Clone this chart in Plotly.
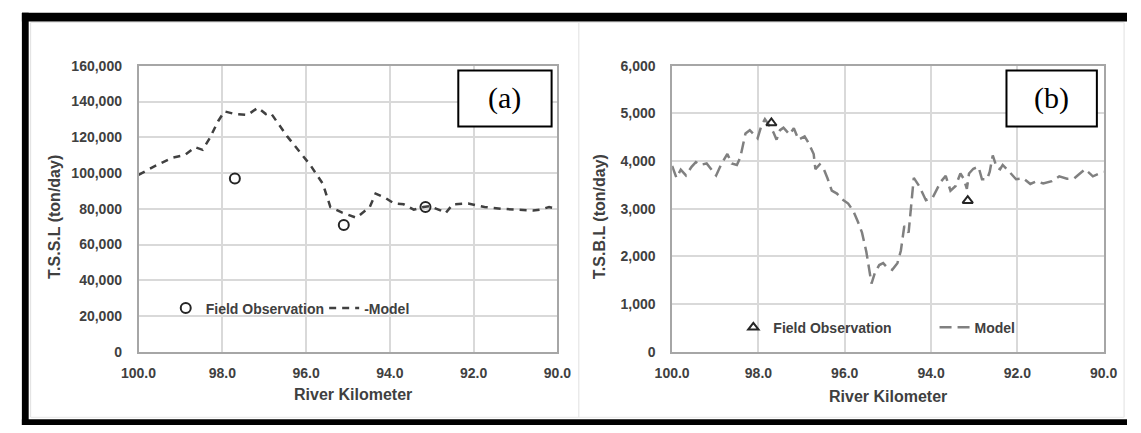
import plotly.graph_objects as go

W, H = 1141, 433

# ---------------- data ----------------
# Panel (a): total suspended sediment load
km_model_a = [100.0, 99.6, 99.2, 98.9, 98.65, 98.47, 98.3, 98.1, 97.95, 97.7, 97.4, 97.15,
              96.96, 96.84, 96.45, 96.15, 95.9, 95.6, 95.42, 95.15, 94.8, 94.48, 94.34,
              94.1, 93.9, 93.67, 93.43, 93.2, 93.06, 92.78, 92.67, 92.5, 92.13, 91.74,
              91.35, 90.97, 90.58, 90.42, 90.2, 90.0]
tssl_model = [99000, 104000, 108500, 110000, 114500, 113000, 119500, 129000, 134500, 133000,
              132500, 136500, 133000, 133500, 120500, 111500, 104500, 94000, 81000, 78000,
              75000, 81000, 88500, 86000, 83000, 82500, 79500, 81000, 81500, 79000, 77500,
              82500, 83000, 81000, 80000, 79500, 79000, 79500, 81000, 80000]
km_obs_a = [97.7, 95.1, 93.15]
tssl_obs = [97000, 71000, 81000]

# Panel (b): total sediment bed load
km_model_b = [100.0, 99.9, 99.8, 99.68, 99.55, 99.45, 99.35, 99.2, 99.05, 98.98, 98.87, 98.72,
              98.62, 98.5, 98.42, 98.3, 98.2, 98.08, 98.02, 97.93, 97.85, 97.75, 97.65, 97.58,
              97.5, 97.42, 97.28, 97.18, 97.07, 96.93, 96.85, 96.72, 96.68, 96.58, 96.48,
              96.4, 96.3, 96.18, 96.06, 95.92, 95.8, 95.7, 95.6, 95.5, 95.44, 95.38, 95.3,
              95.2, 95.11, 95.04, 94.9, 94.78, 94.7, 94.62, 94.52, 94.47, 94.4, 94.27, 94.12,
              93.96, 93.78, 93.66, 93.55, 93.43, 93.32, 93.25, 93.17, 93.12, 93.02, 92.9,
              92.82, 92.7, 92.64, 92.57, 92.48, 92.4, 92.34, 92.18, 92.03, 91.86, 91.7, 91.55,
              91.4, 91.2, 91.03, 90.85, 90.68, 90.55, 90.43, 90.25, 90.1, 90.0]
tsbl_model = [3900, 3650, 3820, 3700, 3880, 3980, 3920, 3950, 3780, 3700, 3920, 4150,
              3950, 3920, 4080, 4580, 4650, 4550, 4480, 4750, 4880, 4750, 4600, 4450,
              4650, 4700, 4560, 4690, 4450, 4520, 4400, 4150, 3830, 3930, 3820,
              3640, 3380, 3320, 3200, 3110, 2950, 2740, 2500, 2100, 1800, 1430, 1660,
              1820, 1860, 1790, 1720, 1860, 2120, 2640, 2500, 2920, 3650, 3470, 3180,
              3240, 3560, 3690, 3380, 3480, 3740, 3640, 3420, 3740, 3840, 3880,
              3620, 3620, 3780, 4120, 3870, 3830, 3920, 3770, 3620, 3640, 3520, 3580,
              3530, 3580, 3680, 3630, 3640, 3740, 3830, 3680, 3740, 3780]
km_obs_b = [97.7, 93.15]
tsbl_obs = [4800, 3170]

y_ticks_a = [0, 20000, 40000, 60000, 80000, 100000, 120000, 140000, 160000]
y_ticks_b = [0, 1000, 2000, 3000, 4000, 5000, 6000]
x_ticks = [100, 98, 96, 94, 92, 90]


# ---------------- helpers ----------------
def px(x):
    return x / W


def py(y):
    return 1 - y / H


TXT = "#404040"
FONT = "Liberation Sans"

fig = go.Figure()

fig.add_trace(go.Scatter(
    x=km_model_a, y=tssl_model, mode="lines", name="-Model",
    line=dict(color="#404040", width=2.5, dash="7px,6px"),
    xaxis="x", yaxis="y", legend="legend2"))
fig.add_trace(go.Scatter(
    x=km_obs_a, y=tssl_obs, mode="markers", name="Field Observation",
    marker=dict(symbol="circle-open", size=10, color="#262626", line=dict(width=2)),
    xaxis="x", yaxis="y", legend="legend"))

fig.add_trace(go.Scatter(
    x=km_model_b, y=tsbl_model, mode="lines", name="Model",
    line=dict(color="#808080", width=2.5, dash="12px,6px"),
    xaxis="x2", yaxis="y2", legend="legend4"))
fig.add_trace(go.Scatter(
    x=km_obs_b, y=tsbl_obs, mode="markers", name="Field Observation",
    marker=dict(symbol="triangle-up-open", size=9, color="#262626", line=dict(width=2)),
    xaxis="x2", yaxis="y2", legend="legend3"))

tickfont = dict(family=FONT, size=14, color=TXT, weight="bold")
common_x = dict(range=[100, 90], tickvals=x_ticks, tickformat=".1f", showgrid=True,
                gridcolor="#d9d9d9", gridwidth=1.5, showline=True, linecolor="#a6a6a6",
                linewidth=1.5, mirror=True, zeroline=False, ticks="", tickfont=tickfont,
                ticklabelstandoff=8, fixedrange=True)
common_y = dict(showgrid=True, gridcolor="#d9d9d9", gridwidth=1.5, showline=True,
                linecolor="#a6a6a6", linewidth=1.5, mirror=True, zeroline=False, ticks="",
                tickfont=tickfont, tickformat=",", ticklabelstandoff=12, fixedrange=True)

ydom = [py(357), py(60)]
fig.update_layout(
    width=W, height=H,
    margin=dict(l=0, r=0, t=0, b=0),
    paper_bgcolor="white", plot_bgcolor="white",
    xaxis=dict(domain=[px(124), px(555)], anchor="y", **common_x),
    yaxis=dict(domain=ydom, anchor="x", range=[0, 160000], tickvals=y_ticks_a, **common_y),
    xaxis2=dict(domain=[px(673), px(1117)], anchor="y2", **common_x),
    yaxis2=dict(domain=ydom, anchor="x2", range=[0, 6000], tickvals=y_ticks_b, **common_y),
)

legfont = dict(family=FONT, size=14, color=TXT, weight="bold")


def leg(xp, yp):
    return dict(x=px(xp), y=py(yp), xanchor="left", yanchor="middle", bgcolor="rgba(0,0,0,0)",
                borderwidth=0, font=legfont, itemwidth=30, orientation="v")


fig.update_layout(
    showlegend=True,
    legend=leg(152, 312),
    legend2=leg(315, 312),
    legend3=leg(736, 332),
    legend4=leg(943, 332),
)

annotations = []
titlefont = dict(family=FONT, size=16, color=TXT, weight="bold")
for xc, yc, txt in [(345, 401, "River Kilometer"), (895, 403, "River Kilometer")]:
    annotations.append(dict(x=px(xc), y=py(yc), xref="paper", yref="paper", text=txt,
                            showarrow=False, font=titlefont, xanchor="center", yanchor="middle"))
for xc, yc, txt in [(38, 217, "T.S.S.L (ton/day)"), (599, 217, "T.S.B.L (ton/day)")]:
    annotations.append(dict(x=px(xc), y=py(yc), xref="paper", yref="paper", text=txt,
                            showarrow=False, font=titlefont, textangle=-90,
                            xanchor="center", yanchor="middle"))
for xc, yc, txt in [(501, 93, "(a)"), (1063, 93, "(b)")]:
    annotations.append(dict(x=px(xc), y=py(yc), xref="paper", yref="paper", text=txt,
                            showarrow=False, xanchor="center", yanchor="middle",
                            font=dict(family="Liberation Serif", size=30, color="black")))
fig.update_layout(annotations=annotations)

shapes = []
# label boxes
for x0, x1 in [(453, 549), (1017, 1110)]:
    shapes.append(dict(type="rect", xref="paper", yref="paper", x0=px(x0), x1=px(x1),
                       y0=py(123), y1=py(65), line=dict(color="black", width=2),
                       fillcolor="white", layer="above"))
# light chart-area borders
for xl in [13, 577, 1138]:
    shapes.append(dict(type="line", xref="paper", yref="paper", x0=px(xl), x1=px(xl),
                       y0=py(425), y1=py(15), line=dict(color="#e0e0e0", width=1)))
for yl in [15, 425]:
    shapes.append(dict(type="line", xref="paper", yref="paper", x0=px(13), x1=px(1138),
                       y0=py(yl), y1=py(yl), line=dict(color="#e6e6e6", width=1)))
# outer black frame
for x0, x1, y0, y1 in [(4, 11, 5, 433), (4, W, 5, 14), (4, W, 427, 433)]:
    shapes.append(dict(type="rect", xref="paper", yref="paper", x0=px(x0), x1=px(x1),
                       y0=py(y1), y1=py(y0), line=dict(width=0), fillcolor="black",
                       layer="above"))
fig.update_layout(shapes=shapes)

fig.write_html("out.html")
